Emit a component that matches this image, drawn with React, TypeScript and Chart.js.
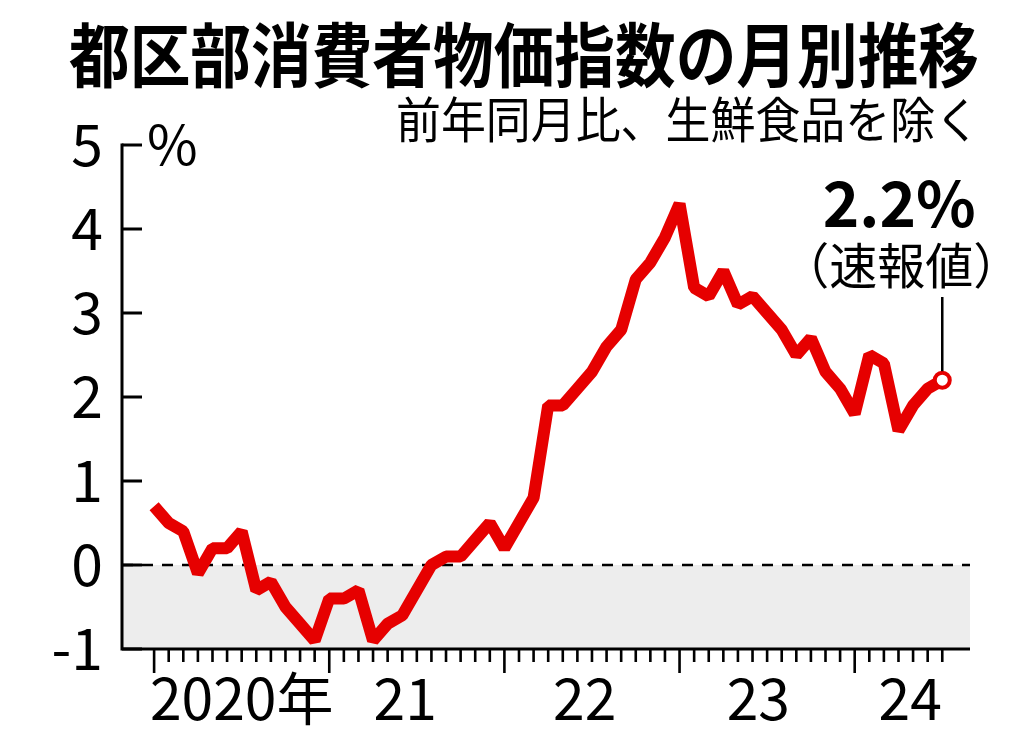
import React, { useEffect, useRef } from "react";
import { Chart, registerables } from "chart.js";

Chart.register(...registerables);

// ---- data ----
const TITLE = "都区部消費者物価指数の月別推移";
const SUBTITLE = "前年同月比、生鮮食品を除く";
const UNIT = "%";

// Jan 2020 .. Jul 2024, y/y % change excluding fresh food
const cpi2020 = [0.7, 0.5, 0.4, -0.1, 0.2, 0.2, 0.4, -0.3, -0.2, -0.5, -0.7, -0.9];
const cpi2021 = [-0.4, -0.4, -0.3, -0.9, -0.7, -0.6, -0.3, 0.0, 0.1, 0.1, 0.3, 0.5];
const cpi2022 = [0.2, 0.5, 0.8, 1.9, 1.9, 2.1, 2.3, 2.6, 2.8, 3.4, 3.6, 3.9];
const cpi2023 = [4.3, 3.3, 3.2, 3.5, 3.1, 3.2, 3.0, 2.8, 2.5, 2.7, 2.3, 2.1];
const cpi2024 = [1.8, 2.5, 2.4, 1.6, 1.9, 2.1, 2.2];

const yTicks = [5, 4, 3, 2, 1, 0, -1];
const yTickLabels = ["5", "4", "3", "2", "1", "0", "-1"];
const yearLabels = ["2020年", "21", "22", "23", "24"];
const yearLabelAt = [6, 17.2, 29.5, 41.4, 51.8];
const yearStarts = [0, 12, 24, 36, 48];

const LATEST_VALUE = "2.2%";
const LATEST_NOTE = "（速報値）";

const series = [...cpi2020, ...cpi2021, ...cpi2022, ...cpi2023, ...cpi2024];
const points = series.map((v, i) => ({ x: i, y: v }));
const LAST = series.length - 1;

const RED = "#e60000";
const FONT = '"Noto Sans CJK JP", "Noto Sans", sans-serif';

const decor = {
  id: "decor",
  beforeDatasetsDraw(chart: any) {
    const { ctx, chartArea: a, scales } = chart;
    const y = scales.y;
    const y0 = y.getPixelForValue(0);
    const yb = y.getPixelForValue(-1);
    ctx.save();
    ctx.fillStyle = "#ededed";
    ctx.fillRect(a.left, y0, a.right - a.left, yb - y0);
    ctx.strokeStyle = "#000";
    ctx.lineWidth = 2.5;
    ctx.setLineDash([11, 9]);
    ctx.beginPath();
    ctx.moveTo(a.left, y0);
    ctx.lineTo(a.right, y0);
    ctx.stroke();
    ctx.restore();
  },
  afterDatasetsDraw(chart: any) {
    const { ctx, chartArea: a, scales } = chart;
    const x = scales.x;
    const y = scales.y;
    const top = y.getPixelForValue(yTicks[0]);
    const bot = y.getPixelForValue(yTicks[yTicks.length - 1]);
    ctx.save();
    ctx.setLineDash([]);
    ctx.strokeStyle = "#000";
    ctx.fillStyle = "#000";
    ctx.lineWidth = 3;
    ctx.lineCap = "butt";
    // axes
    ctx.beginPath();
    ctx.moveTo(a.left, top - 1.5);
    ctx.lineTo(a.left, bot + 1.5);
    ctx.moveTo(a.left - 1.5, bot);
    ctx.lineTo(a.right, bot);
    ctx.stroke();
    // y ticks (inward)
    ctx.beginPath();
    yTicks.forEach((v) => {
      const py = y.getPixelForValue(v);
      ctx.moveTo(a.left, py);
      ctx.lineTo(a.left + 20, py);
    });
    ctx.stroke();
    // y labels
    ctx.font = `57px ${FONT}`;
    ctx.textAlign = "right";
    ctx.textBaseline = "alphabetic";
    yTicks.forEach((v, i) => {
      const py = y.getPixelForValue(v);
      ctx.fillText(yTickLabels[i], a.left - 19, py + 21);
    });
    // unit
    ctx.font = `55px ${FONT}`;
    ctx.textAlign = "left";
    ctx.fillText(UNIT, a.left + 25, top + 20);
    // x ticks (monthly, longer at January)
    ctx.lineWidth = 2.6;
    ctx.beginPath();
    for (let i = 0; i <= LAST; i++) {
      const px = x.getPixelForValue(i);
      const len = yearStarts.includes(i) ? 24 : 13;
      ctx.moveTo(px, bot);
      ctx.lineTo(px, bot + len);
    }
    ctx.stroke();
    // x labels
    ctx.font = `57px ${FONT}`;
    ctx.textAlign = "center";
    yearLabels.forEach((t, i) => {
      ctx.fillText(t, x.getPixelForValue(yearLabelAt[i]), bot + 71);
    });
    // title & subtitle
    ctx.font = `bold 70px ${FONT}`;
    ctx.textAlign = "center";
    ctx.textBaseline = "middle";
    ctx.fillText(TITLE, 524, 55, 910);
    ctx.font = `49px ${FONT}`;
    ctx.textAlign = "right";
    ctx.fillText(SUBTITLE, 980, 119, 584);
    // latest annotation
    const lx = x.getPixelForValue(LAST);
    const ly = y.getPixelForValue(series[LAST]);
    ctx.lineWidth = 2.5;
    ctx.beginPath();
    ctx.moveTo(lx, 297);
    ctx.lineTo(lx, ly - 9);
    ctx.stroke();
    ctx.font = `bold 62px ${FONT}`;
    ctx.textAlign = "center";
    ctx.textBaseline = "alphabetic";
    ctx.fillText(LATEST_VALUE, lx - 43, 227);
    ctx.font = `49px ${FONT}`;
    ctx.textBaseline = "middle";
    ctx.fillText(LATEST_NOTE, lx - 41, 265, 240);
    ctx.restore();
  },
};

export default function App() {
  const ref = useRef<HTMLCanvasElement>(null);
  useEffect(() => {
    document.body.style.margin = "0";
    const chart = new Chart(ref.current as HTMLCanvasElement, {
      type: "line",
      data: {
        datasets: [
          {
            data: points,
            borderColor: RED,
            borderWidth: 12,
            borderJoinStyle: "bevel",
            tension: 0,
            clip: false as any,
            pointRadius: (c: any) => (c.dataIndex === LAST ? 7.5 : 0),
            pointBorderWidth: 4,
            pointBackgroundColor: "#fff",
            pointBorderColor: RED,
            pointHoverRadius: 0,
          },
        ],
      },
      options: {
        animation: false,
        responsive: false,
        devicePixelRatio: 1,
        events: [],
        layout: { padding: { left: 122, right: 54, top: 145, bottom: 91 } },
        plugins: { legend: { display: false }, tooltip: { enabled: false } },
        scales: {
          x: { type: "linear", min: -2.2, max: 55.9, display: false },
          y: { type: "linear", min: -1, max: 5, display: false },
        },
      },
      plugins: [decor],
    });
    return () => chart.destroy();
  }, []);
  return (
    <div style={{ width: 1024, height: 740, background: "#fff" }}>
      <canvas ref={ref} width={1024} height={740} />
    </div>
  );
}
